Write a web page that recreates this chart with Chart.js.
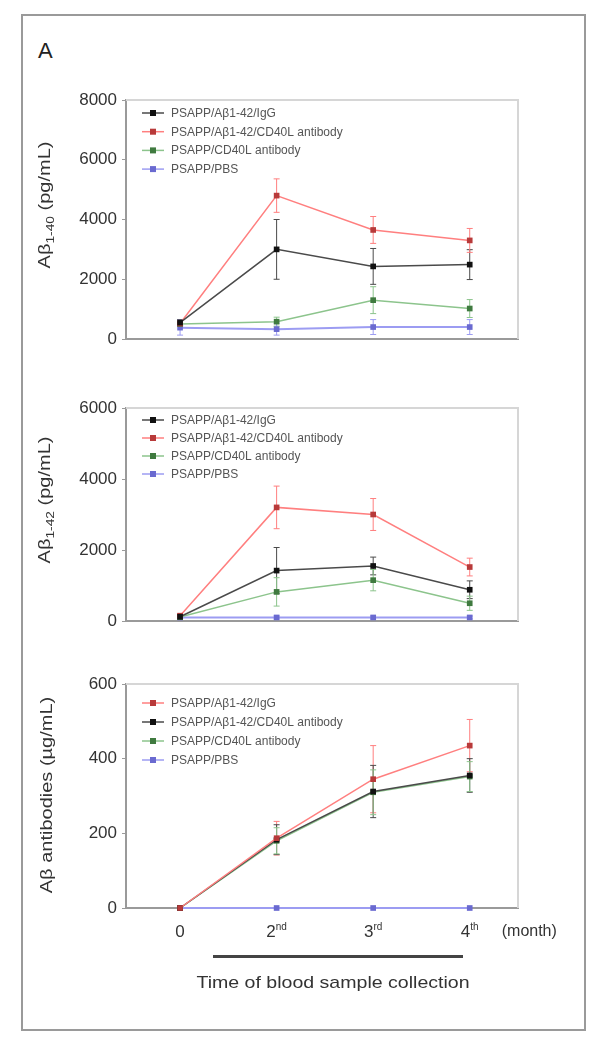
<!DOCTYPE html>
<html>
<head>
<meta charset="utf-8">
<script src="https://cdn.jsdelivr.net/npm/chart.js@4.4.0/dist/chart.umd.min.js"></script>
<style>
body{margin:0;background:#fff;font-family:Arial,"Liberation Sans",sans-serif}
#page{position:relative;width:600px;height:1044px;overflow:hidden}
#frame{position:absolute;left:21px;top:14px;width:561px;height:1013px;border:2px solid #9a9a9a}
#letter{position:absolute;left:38px;top:38px;font-size:22px;color:#222}
.panel{position:absolute;left:0}
.ytitle{position:absolute;white-space:nowrap;font-size:16px;color:#333;transform:translate(-50%,-50%) rotate(-90deg) scale(1.25,1)}
.ytitle sub{font-size:11px}
#bar{position:absolute;left:213px;top:955px;width:250px;height:3px;background:#444}
#xtitle{position:absolute;left:333px;top:983px;white-space:nowrap;font-size:17px;color:#333;transform:translate(-50%,-50%) scale(1.15,1)}
</style>
</head>
<body>
<div id="page">
<div id="frame"></div>
<div id="letter">A</div>

<div class="panel" style="top:80px"><canvas id="chart1" width="600" height="280"></canvas></div>
<div class="panel" style="top:388px"><canvas id="chart2" width="600" height="260"></canvas></div>
<div class="panel" style="top:664px"><canvas id="chart3" width="600" height="300"></canvas></div>

<div class="ytitle" style="left:46px;top:205px">Aβ<sub>1-40</sub> (pg/mL)</div>
<div class="ytitle" style="left:46px;top:500px">Aβ<sub>1-42</sub> (pg/mL)</div>
<div class="ytitle" style="left:47px;top:795px">Aβ antibodies (µg/mL)</div>

<div id="bar"></div>
<div id="xtitle">Time of blood sample collection</div>
</div>

<script>

const months=[0,1,2,3]
const monthNums=["0","2","3","4"]
const monthSups=["","nd","rd","th"]
const monthUnit="(month)"

const nameIg="PSAPP/Aβ1-42/IgG"
const nameAbCD40L="PSAPP/Aβ1-42/CD40L antibody"
const nameCD40L="PSAPP/CD40L antibody"
const namePBS="PSAPP/PBS"

// panel 1 : Abeta 1-40 (pg/mL)
const ab40Ig=[550,3000,2430,2490]
const ab40IgErr=[100,1000,600,500]
const ab40AbCD40L=[520,4800,3650,3300]
const ab40AbCD40LErr=[100,560,450,400]
const ab40CD40L=[500,580,1300,1020]
const ab40CD40LErr=[50,150,450,300]
const ab40PBS=[380,330,400,400]
const ab40PBSErr=[250,200,250,250]
const ab40Ticks=[0,2000,4000,6000,8000]

// panel 2 : Abeta 1-42 (pg/mL)
const ab42Ig=[120,1420,1550,880]
const ab42IgErr=[50,650,250,250]
const ab42AbCD40L=[150,3200,3000,1520]
const ab42AbCD40LErr=[50,600,450,250]
const ab42CD40L=[110,820,1150,500]
const ab42CD40LErr=[30,400,300,200]
const ab42PBS=[100,100,100,100]
const ab42PBSErr=[30,40,40,40]
const ab42Ticks=[0,2000,4000,6000]

// panel 3 : Abeta antibodies (ug/mL)
const antiIg=[0,187,345,435]
const antiIgErr=[0,45,90,70]
const antiAbCD40L=[0,183,312,355]
const antiAbCD40LErr=[0,40,70,45]
const antiCD40L=[0,180,310,352]
const antiCD40LErr=[0,35,60,40]
const antiPBS=[0,0,0,0]
const antiPBSErr=[0,0,0,0]
const antiTicks=[0,200,400,600]

const black={line:"#4a4a4a",point:"#111111"}
const red={line:"#ff7f7f",point:"#b83a3a"}
const green={line:"#8cc48c",point:"#3f7a3f"}
const blue={line:"#9c9cf2",point:"#6a6ad0"}

function toPoints(values)
{
return values.map((v,i)=>({x:months[i],y:v}))
}

function makeDeco(series,legendTop,legendGap,showMonths)
{
return {
id:"deco",
beforeDatasetsDraw(chart)
{
const ctx=chart.ctx
const a=chart.chartArea
const xs=chart.scales.x
const ys=chart.scales.y

ctx.save()
ctx.strokeStyle="#d6d6d6"
ctx.lineWidth=2
ctx.beginPath()
ctx.moveTo(a.left,a.top)
ctx.lineTo(a.right,a.top)
ctx.lineTo(a.right,a.bottom)
ctx.stroke()

series.forEach(s=>
{
ctx.strokeStyle=s.color.line
ctx.lineWidth=1
s.values.forEach((v,i)=>
{
const e=s.errors[i]
if(!e) return
const x=xs.getPixelForValue(months[i])
const yTop=ys.getPixelForValue(v+e)
const yBot=ys.getPixelForValue(Math.max(0,v-e))
ctx.beginPath()
ctx.moveTo(x,yTop)
ctx.lineTo(x,yBot)
ctx.moveTo(x-3,yTop)
ctx.lineTo(x+3,yTop)
ctx.moveTo(x-3,yBot)
ctx.lineTo(x+3,yBot)
ctx.stroke()
})
})
ctx.restore()
},
afterDraw(chart)
{
const ctx=chart.ctx
const a=chart.chartArea
const xs=chart.scales.x

ctx.save()
ctx.font="12px Arial, 'Liberation Sans', sans-serif"
ctx.textBaseline="middle"
series.forEach((s,i)=>
{
const y=a.top+legendTop+i*legendGap
ctx.strokeStyle=s.color.line
ctx.lineWidth=1.5
ctx.beginPath()
ctx.moveTo(a.left+16,y)
ctx.lineTo(a.left+38,y)
ctx.stroke()
ctx.fillStyle=s.color.point
ctx.fillRect(a.left+24,y-3,6,6)
ctx.fillStyle="#555"
ctx.fillText(s.label,a.left+45,y+0.5)
})

if(showMonths)
{
const y=a.bottom+24
ctx.fillStyle="#333"
ctx.textBaseline="middle"
months.forEach((m,i)=>
{
const x=xs.getPixelForValue(m)
ctx.font="17px Arial, 'Liberation Sans', sans-serif"
const w1=ctx.measureText(monthNums[i]).width
ctx.font="10px Arial, 'Liberation Sans', sans-serif"
const w2=ctx.measureText(monthSups[i]).width
const x0=x-(w1+w2)/2
ctx.textAlign="left"
ctx.font="17px Arial, 'Liberation Sans', sans-serif"
ctx.fillText(monthNums[i],x0,y)
ctx.font="10px Arial, 'Liberation Sans', sans-serif"
ctx.fillText(monthSups[i],x0+w1,y-5)
})
ctx.font="16px Arial, 'Liberation Sans', sans-serif"
ctx.fillText(monthUnit,xs.getPixelForValue(3)+32,y)
}
ctx.restore()
}
}
}

function makeChart(id,series,ticks,bottomSpace,legendTop,legendGap,showMonths)
{
const datasets=series.map(s=>(
{
label:s.label,
data:toPoints(s.values),
borderColor:s.color.line,
borderWidth:s.color===blue?2:1.5,
backgroundColor:s.color.point,
pointStyle:"rect",
pointRadius:4,
pointBorderWidth:0,
pointBackgroundColor:s.color.point,
tension:0,
clip:false
}))

return new Chart(document.getElementById(id),
{
type:"line",
data:{datasets:datasets},
options:
{
responsive:false,
animation:false,
layout:{padding:{top:20,right:82,left:0,bottom:0}},
plugins:{legend:{display:false},tooltip:{enabled:false}},
scales:
{
x:
{
type:"linear",
min:-0.56,
max:3.5,
ticks:{display:false},
grid:{display:false},
border:{display:true,color:"#9a9a9a",width:2},
afterFit:scale=>{scale.height=bottomSpace}
},
y:
{
min:ticks[0],
max:ticks[ticks.length-1],
afterBuildTicks:scale=>{scale.ticks=ticks.map(v=>({value:v}))},
ticks:{color:"#333",padding:5,font:{size:17,family:"Arial, 'Liberation Sans', sans-serif"},callback:v=>String(v)},
grid:{drawOnChartArea:false,drawTicks:true,tickLength:4,color:"#9a9a9a"},
border:{display:true,color:"#9a9a9a",width:2},
afterFit:scale=>{scale.width=126}
}
}
},
plugins:[makeDeco(series,legendTop,legendGap,showMonths)]
})
}

makeChart("chart1",[
{label:nameIg,values:ab40Ig,errors:ab40IgErr,color:black},
{label:nameAbCD40L,values:ab40AbCD40L,errors:ab40AbCD40LErr,color:red},
{label:nameCD40L,values:ab40CD40L,errors:ab40CD40LErr,color:green},
{label:namePBS,values:ab40PBS,errors:ab40PBSErr,color:blue}
],ab40Ticks,21,13,18.7,false)

makeChart("chart2",[
{label:nameIg,values:ab42Ig,errors:ab42IgErr,color:black},
{label:nameAbCD40L,values:ab42AbCD40L,errors:ab42AbCD40LErr,color:red},
{label:nameCD40L,values:ab42CD40L,errors:ab42CD40LErr,color:green},
{label:namePBS,values:ab42PBS,errors:ab42PBSErr,color:blue}
],ab42Ticks,27,12,18,false)

makeChart("chart3",[
{label:nameIg,values:antiIg,errors:antiIgErr,color:red},
{label:nameAbCD40L,values:antiAbCD40L,errors:antiAbCD40LErr,color:black},
{label:nameCD40L,values:antiCD40L,errors:antiCD40LErr,color:green},
{label:namePBS,values:antiPBS,errors:antiPBSErr,color:blue}
],antiTicks,56,19,19,true)

</script>
</body>
</html>
